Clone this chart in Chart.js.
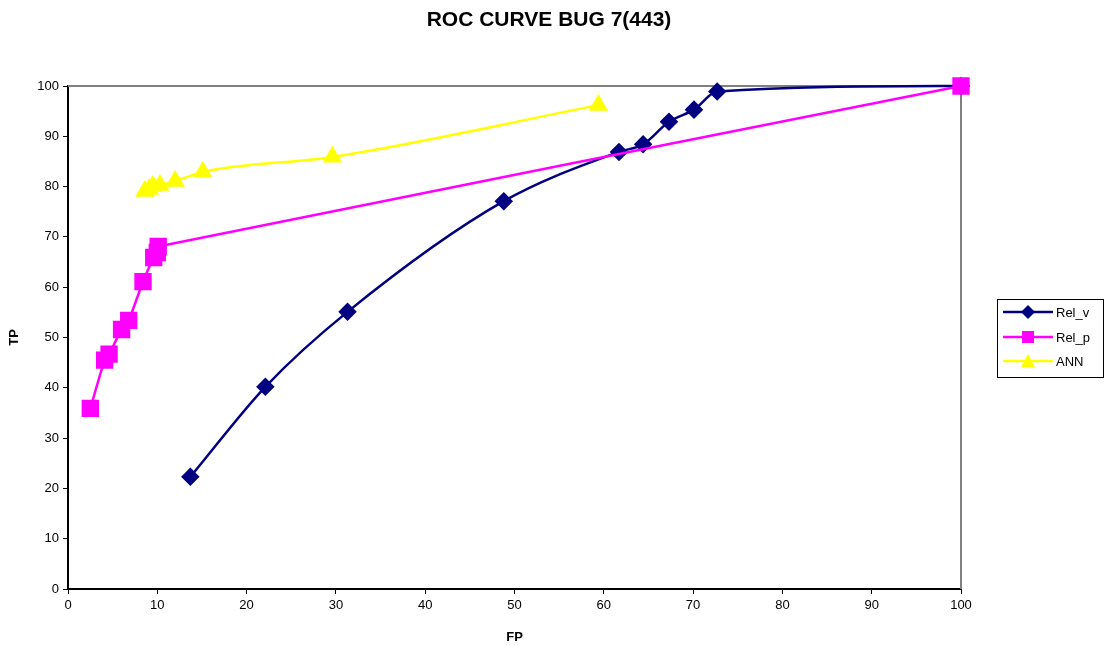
<!DOCTYPE html>
<html>
<head>
<meta charset="utf-8">
<script src="https://cdn.jsdelivr.net/npm/chart.js@4/dist/chart.umd.min.js"></script>
<style>
  html, body { margin: 0; padding: 0; background: #fff; }
  #wrap { width: 1112px; height: 656px; }
</style>
</head>
<body>
<div id="wrap"><canvas id="roc" width="1112" height="656"></canvas></div>
<script>
// values (FP, TP)
const relVx = [13.7, 22.1, 31.3, 48.8, 61.7, 64.4, 67.3, 70.1, 72.7, 100];
const relVy = [22.3, 40.2, 55.1, 77.1, 86.9, 88.4, 92.9, 95.3, 98.9, 100];

const relPx = [2.5, 4.1, 4.6, 6.0, 6.8, 8.4, 9.6, 10.0, 10.1, 100];
const relPy = [35.9, 45.5, 46.7, 51.6, 53.4, 61.1, 65.9, 66.9, 68.1, 100];

const annX = [8.6, 9.1, 9.5, 10.3, 12.0, 15.1, 29.6, 59.4];
const annY = [79.1, 79.5, 80.1, 80.3, 81.1, 82.9, 85.9, 96.2];

const seriesNames = ['Rel_v', 'Rel_p', 'ANN'];
const chartTitle = 'ROC CURVE BUG 7(443)';

const toPoints = (xs, ys) => xs.map((x, i) => ({ x: x, y: ys[i] }));

const FONT = 'Arial, "Liberation Sans", sans-serif';

// title, plot frame and legend, drawn the Excel way
const excelBits = {
    id: 'excelBits',
    beforeDatasetsDraw(chart) {
        const { ctx, chartArea: a } = chart;
        ctx.save();
        ctx.strokeStyle = '#808080';
        ctx.lineWidth = 2;
        ctx.beginPath();
        ctx.moveTo(a.left, a.top);
        ctx.lineTo(a.right, a.top);
        ctx.lineTo(a.right, a.bottom);
        ctx.stroke();
        ctx.restore();
    },
    afterDraw(chart) {
        const ctx = chart.ctx;
        ctx.save();
        ctx.fillStyle = '#000';
        ctx.font = 'bold 21px ' + FONT;
        ctx.textAlign = 'center';
        ctx.textBaseline = 'middle';
        ctx.fillText(chartTitle, 549, 20);

        // legend box
        const bx = 997, by = 299, bw = 106, bh = 78;
        ctx.strokeStyle = '#000';
        ctx.lineWidth = 1;
        ctx.strokeRect(bx + 0.5, by + 0.5, bw, bh);
        ctx.font = '13px ' + FONT;
        ctx.textAlign = 'left';
        const rows = [312, 337, 361];
        chart.data.datasets.forEach((ds, i) => {
            const y = rows[i];
            ctx.strokeStyle = ds.borderColor;
            ctx.lineWidth = 2.5;
            ctx.beginPath();
            ctx.moveTo(1003, y);
            ctx.lineTo(1053, y);
            ctx.stroke();
            ctx.fillStyle = ds.backgroundColor;
            ctx.beginPath();
            if (ds.pointStyle === 'rectRot') {
                ctx.moveTo(1028, y - 7); ctx.lineTo(1035, y);
                ctx.lineTo(1028, y + 7); ctx.lineTo(1021, y);
            } else if (ds.pointStyle === 'rect') {
                ctx.rect(1028 - 6, y - 6, 12, 12);
            } else {
                ctx.moveTo(1028, y - 7); ctx.lineTo(1035, y + 6); ctx.lineTo(1021, y + 6);
            }
            ctx.closePath();
            ctx.fill();
            ctx.fillStyle = '#000';
            ctx.fillText(ds.label, 1056, y + 1);
        });
        ctx.restore();
    }
};

const ctx = document.getElementById('roc').getContext('2d');
new Chart(ctx, {
    type: 'line',
    data: {
        datasets: [{
            label: seriesNames[0],
            data: toPoints(relVx, relVy),
            borderColor: '#000080',
            backgroundColor: '#000080',
            borderWidth: 2.5,
            pointStyle: 'rectRot',
            pointRadius: 7.5,
            cubicInterpolationMode: 'monotone',
            clip: false,
            order: 3
        }, {
            label: seriesNames[1],
            data: toPoints(relPx, relPy),
            borderColor: '#ff00ff',
            backgroundColor: '#ff00ff',
            borderWidth: 2.5,
            pointStyle: 'rect',
            pointRadius: 10.5,
            tension: 0.2,
            clip: false,
            order: 2
        }, {
            label: seriesNames[2],
            data: toPoints(annX, annY),
            borderColor: '#ffff00',
            backgroundColor: '#ffff00',
            borderWidth: 2.5,
            pointStyle: 'triangle',
            pointRadius: 8.7,
            cubicInterpolationMode: 'monotone',
            clip: false,
            order: 1
        }]
    },
    options: {
        responsive: false,
        animation: false,
        layout: { padding: { top: 86, right: 151, left: 0, bottom: 0 } },
        plugins: {
            legend: { display: false },
            tooltip: { enabled: false }
        },
        scales: {
            x: {
                type: 'linear',
                min: 0,
                max: 100,
                ticks: { stepSize: 10, color: '#000', font: { family: FONT, size: 13 }, padding: 4 },
                grid: { display: true, drawOnChartArea: false, tickLength: 5, color: '#000' },
                border: { color: '#000', width: 2 },
                title: { display: true, text: 'FP', color: '#000', font: { family: FONT, size: 13, weight: 'bold' }, padding: { top: 4, bottom: 11 } },
                afterFit(scale) { scale.height = 67; }
            },
            y: {
                type: 'linear',
                min: 0,
                max: 100,
                ticks: { stepSize: 10, color: '#000', font: { family: FONT, size: 13 }, padding: 4 },
                grid: { display: true, drawOnChartArea: false, tickLength: 5, color: '#000' },
                border: { color: '#000', width: 2 },
                title: { display: true, text: 'TP', color: '#000', font: { family: FONT, size: 13, weight: 'bold' }, padding: { top: 7, bottom: 4 } },
                afterFit(scale) { scale.width = 68; }
            }
        }
    },
    plugins: [excelBits]
});
</script>
</body>
</html>
